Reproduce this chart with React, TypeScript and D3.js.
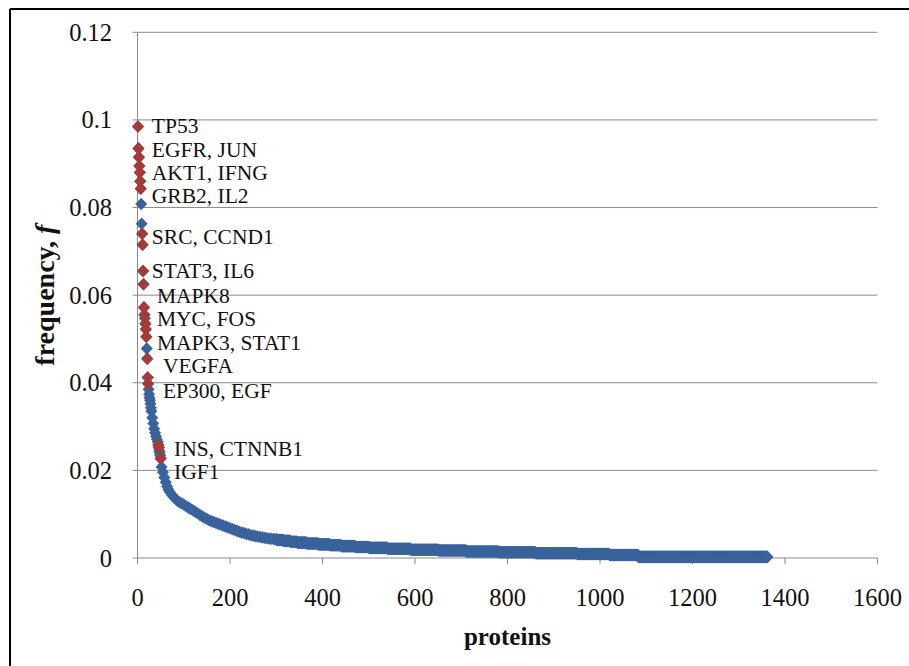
import React from "react";
import * as d3 from "d3";

// ---- data ----
// Ranked proteins 1..300: rank and frequency f
const headRanks = [
  1, 2, 3, 4, 5, 6, 7, 8, 9, 10, 11, 12, 13, 14, 15, 16, 17, 18, 19, 20, 21, 22, 23, 24, 25, 26, 27, 28, 29, 30,
  32, 34, 36, 38, 40, 42, 44, 45, 46, 47, 48, 49, 50, 52, 55, 58, 61, 64, 67, 70, 75, 80, 85, 90, 95, 100,
  105, 110, 115, 120, 125, 130, 135, 140, 145, 150, 155, 160, 165, 170, 175, 180, 185, 190, 195, 200,
  205, 210, 215, 220, 225, 230, 235, 240, 245, 250, 255, 260, 265, 270, 275, 280, 285, 290, 295, 300,
];
const headFreqs = [
  0.0985, 0.0935, 0.0915, 0.0895, 0.088, 0.086, 0.0843, 0.0808, 0.0763, 0.074, 0.0715, 0.0655, 0.0625, 0.0572,
  0.0555, 0.0547, 0.0535, 0.0522, 0.0505, 0.0478, 0.0455, 0.0412, 0.0398, 0.0385, 0.0374, 0.0366, 0.036, 0.0352,
  0.0343, 0.0335, 0.032, 0.0307, 0.0295, 0.0286, 0.0278, 0.0271, 0.0265, 0.0258, 0.0252, 0.0245, 0.024, 0.0234,
  0.0227, 0.0208, 0.0196, 0.0184, 0.0173, 0.0163, 0.0156, 0.015, 0.0143, 0.0137, 0.0132, 0.0128, 0.0125, 0.0122,
  0.0118, 0.0115, 0.0112, 0.0109, 0.0105, 0.0102, 0.0098, 0.0095, 0.0092, 0.0089, 0.0086, 0.0084, 0.0082, 0.008,
  0.0078, 0.0076, 0.0074, 0.0072, 0.007, 0.0068, 0.0066, 0.0064, 0.0062, 0.006, 0.0058, 0.0057, 0.0055, 0.0054,
  0.0052, 0.0051, 0.005, 0.0049, 0.0048, 0.0047, 0.0046, 0.0045, 0.0044, 0.0044, 0.0043, 0.0043,
];
// Tail: plateaus of tied frequencies (value, last rank of the plateau)
const tailFreqs = [
  0.0041, 0.0039, 0.0037, 0.0035, 0.0033, 0.0031, 0.0029, 0.0027, 0.0025, 0.0023, 0.0021, 0.0019, 0.0017,
  0.0015, 0.0013, 0.0011, 0.0009, 0.0007, 0.00025,
];
const tailEnds = [315, 330, 345, 365, 390, 415, 440, 470, 500, 540, 590, 650, 710, 780, 860, 950, 1020, 1082, 1362];

// Hub proteins (red) and their ranks
const hubNames = [
  "TP53", "EGFR", "JUN", "AKT1", "IFNG", "GRB2", "IL2", "SRC", "CCND1", "STAT3", "IL6", "MAPK8", "MYC", "FOS",
  "MAPK3", "STAT1", "VEGFA", "EP300", "EGF", "INS", "CTNNB1", "IGF1",
];
const hubRanks = [1, 2, 3, 4, 5, 6, 7, 10, 11, 12, 13, 14, 15, 17, 18, 19, 21, 22, 23, 45, 46, 50];

// Data labels (text, anchor in data units)
const labelTexts = [
  "TP53", "EGFR, JUN", "AKT1, IFNG", "GRB2, IL2", "SRC, CCND1", "STAT3, IL6", "MAPK8", "MYC, FOS",
  "MAPK3, STAT1", "VEGFA", "EP300, EGF", "INS, CTNNB1", "IGF1",
];
const labelRanks = [31, 31, 31, 31, 31, 31, 42, 42, 42, 55, 55, 79, 79];
const labelFreqs = [0.0986, 0.0932, 0.0878, 0.0826, 0.0733, 0.0655, 0.0598, 0.0545, 0.049, 0.0438, 0.0381, 0.0249, 0.0196];

const xTicks = [0, 200, 400, 600, 800, 1000, 1200, 1400, 1600];
const yTicks = [0, 0.02, 0.04, 0.06, 0.08, 0.1, 0.12];

export default function App() {
  const W = 909, H = 666;
  const left = 137.5, right = 877.5, top = 32.3, bottom = 558;
  const x = d3.scaleLinear().domain([0, 1600]).range([left, right]);
  const y = d3.scaleLinear().domain([0, 0.12]).range([bottom, top]);

  const points: { r: number; f: number }[] = headRanks.map((r, i) => ({ r, f: headFreqs[i] }));
  let start = headRanks[headRanks.length - 1] + 1;
  tailFreqs.forEach((f, i) => {
    for (let r = start; r <= tailEnds[i]; r++) points.push({ r, f });
    start = tailEnds[i] + 1;
  });
  const hubs = hubRanks.map((r, i) => {
    const idx = headRanks.indexOf(r);
    return { name: hubNames[i], r, f: headFreqs[idx] };
  });

  const diamond = "M0,-6.3L6,0L0,6.3L-6,0Z";
  const blue = "#3a639c";
  const red = "#a63a38";
  const grid = "#8a8a8a";
  const serif = "'Liberation Serif', 'Times New Roman', Times, serif";
  const ts = { fontFamily: serif };

  return (
    <svg width={W} height={H} style={{ position: "absolute", left: 0, top: 0, background: "#fff" }}>
      <rect x={0} y={0} width={W} height={H} fill="#fff" />
      {/* frame */}
      <line x1={10} y1={9} x2={W} y2={9} stroke="#000" strokeWidth={2} />
      <line x1={10} y1={9} x2={10} y2={H} stroke="#000" strokeWidth={2} />
      {/* gridlines */}
      {yTicks.filter((t) => t > 0).map((t) => (
        <line key={"g" + t} x1={left} x2={right} y1={y(t)} y2={y(t)} stroke={grid} strokeWidth={1} />
      ))}
      {/* axes */}
      <line x1={left} x2={left} y1={top} y2={bottom} stroke={grid} strokeWidth={1} />
      <line x1={left} x2={right} y1={bottom} y2={bottom} stroke={grid} strokeWidth={1} />
      {yTicks.map((t) => (
        <g key={"yt" + t}>
          <line x1={left - 5} x2={left} y1={y(t)} y2={y(t)} stroke={grid} />
          <text x={112} y={y(t)} textAnchor="end" dominantBaseline="central" fontSize={24.5} fill="#111" style={ts}>
            {t === 0 ? "0" : d3.format(".2f")(t).replace(/0$/, "")}
          </text>
        </g>
      ))}
      {xTicks.map((t) => (
        <g key={"xt" + t}>
          <line x1={x(t)} x2={x(t)} y1={bottom} y2={bottom + 6} stroke={grid} />
          <text x={x(t)} y={597} textAnchor="middle" dominantBaseline="central" fontSize={24.5} fill="#111" style={ts}>
            {t}
          </text>
        </g>
      ))}
      {/* axis titles */}
      <text
        transform={`translate(44,${(top + bottom) / 2}) rotate(-90)`}
        textAnchor="middle"
        dominantBaseline="central"
        fontSize={28}
        fontWeight="bold"
        fill="#111"
        style={ts}
      >
        frequency, <tspan fontStyle="italic">f</tspan>
      </text>
      <text x={(left + right) / 2} y={636} textAnchor="middle" dominantBaseline="central" fontSize={25} fontWeight="bold" fill="#111" style={ts}>
        proteins
      </text>
      {/* points */}
      <g fill={blue}>
        {points.map((p, i) => (
          <path key={"b" + i} d={diamond} transform={`translate(${x(p.r)},${y(p.f)})`} />
        ))}
      </g>
      <g fill={red}>
        {hubs.map((p) => (
          <path key={"r" + p.name} d={diamond} transform={`translate(${x(p.r)},${y(p.f)})`} />
        ))}
      </g>
      {/* labels */}
      {labelTexts.map((t, i) => (
        <text key={"l" + i} x={x(labelRanks[i])} y={y(labelFreqs[i])} dominantBaseline="central" fontSize={21.5} fill="#111" style={ts}>
          {t}
        </text>
      ))}
    </svg>
  );
}
